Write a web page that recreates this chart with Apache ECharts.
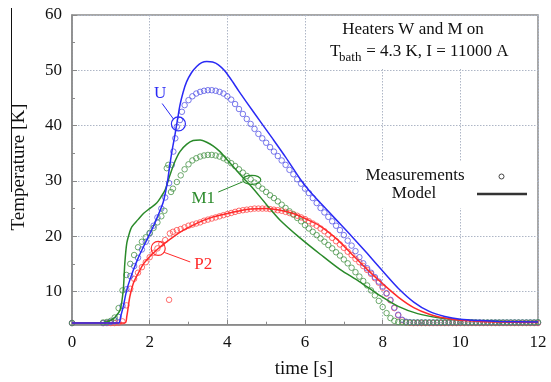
<!DOCTYPE html>
<html>
<head>
<meta charset="utf-8">
<script src="https://cdn.jsdelivr.net/npm/echarts@6/dist/echarts.min.js"></script>
<style>html,body{margin:0;padding:0;background:#fff}#c{width:551px;height:382px}</style>
</head>
<body>
<div id="c"></div>
<script>
// ---- axis ticks ----
const xTickInterval = 2;
const xMin = 0, xMax = 12;
const yMin = 4, yMax = 60;
const yTickValues = [10, 20, 30, 40, 50, 60];
const yMinorTicks = [15, 25, 35, 45, 55];

// ---- model curves [time s, temperature K] ----
const modelU = [[0,4.3],[1.2,4.3],[1.25,5.4],[1.32,7.3],[1.41,10.3],[1.5,12.3],[1.58,13.9],[1.7,16.0],[1.84,18.1],[2.0,20.4],[2.09,21.7],[2.2,23.5],[2.35,26.2],[2.45,29.5],[2.52,32.9],[2.58,35.6],[2.65,38.3],[2.72,41.2],[2.78,43.7],[2.86,46.0],[2.95,47.9],[3.08,49.6],[3.21,50.7],[3.34,51.4],[3.47,51.6],[3.62,51.5],[3.77,51.0],[3.92,50.0],[4.07,48.6],[4.3,46.2],[4.67,42.5],[5.18,37.5],[5.5,34.3],[5.87,30.4],[6.1,28.3],[6.4,26.0],[6.8,23.0],[7.2,20.0],[7.6,16.9],[8.0,13.7],[8.4,10.6],[8.8,8.1],[9.2,6.4],[9.6,5.5],[10,5.0],[10.5,4.75],[11,4.6],[12,4.5]];
const modelM1 = [[0,4.3],[0.8,4.35],[1.0,4.8],[1.1,5.3],[1.24,6.7],[1.32,10.3],[1.36,15.1],[1.41,18.7],[1.48,20.6],[1.54,21.7],[1.7,23.0],[1.84,24.1],[2.0,25.0],[2.18,26.0],[2.3,27.2],[2.4,28.4],[2.52,31.0],[2.65,33.5],[2.78,35.3],[2.95,36.6],[3.12,37.3],[3.3,37.4],[3.47,37.0],[3.64,36.3],[3.81,35.3],[4.0,33.8],[4.15,32.6],[4.4,30.6],[4.63,28.9],[5.0,25.8],[5.36,22.9],[5.87,19.7],[6.4,16.7],[6.9,14.0],[7.4,11.8],[7.9,9.4],[8.4,7.3],[8.9,6.0],[9.4,5.3],[10,4.9],[11,4.6],[12,4.5]];
const modelP2 = [[0,4.3],[1.36,4.3],[1.41,5.45],[1.49,9.1],[1.58,11.5],[1.7,13.2],[1.84,15.0],[2.0,16.3],[2.18,17.5],[2.4,18.8],[2.61,19.9],[2.85,21.0],[3.12,22.0],[3.4,22.9],[3.64,23.5],[4.0,24.1],[4.33,24.6],[4.6,24.9],[5.0,25.0],[5.36,24.7],[5.7,24.1],[6.0,23.2],[6.4,21.8],[6.8,19.6],[7.2,16.8],[7.6,14.0],[8.0,11.4],[8.4,9.0],[8.8,7.1],[9.2,5.9],[9.6,5.2],[10,4.8],[10.5,4.6],[11,4.5],[12,4.4]];

// ---- measurements [time s, temperature K] ----
const measU = [[0,4.3],[0.8,4.3],[0.9,4.35],[1.0,4.5],[1.1,4.8],[1.2,5.4],[1.3,7.4],[1.4,10.4],[1.5,12.8],[1.6,14.6],[1.7,16.1],[1.8,17.6],[1.9,19.0],[2.0,20.5],[2.1,21.9],[2.2,23.4],[2.3,25.0],[2.4,27.0],[2.5,29.6],[2.57,32.9],[2.61,35.3],[2.66,37.7],[2.7,39.8],[2.78,41.0],[2.83,42.5],[2.9,43.7],[3.0,44.6],[3.1,45.3],[3.2,45.8],[3.3,46.1],[3.4,46.3],[3.5,46.4],[3.6,46.4],[3.7,46.3],[3.8,46.1],[3.9,45.8],[4.0,45.3],[4.1,44.7],[4.2,43.9],[4.3,43.0],[4.4,42.1],[4.5,41.2],[4.6,40.3],[4.7,39.4],[4.8,38.5],[4.9,37.7],[5.0,36.9],[5.1,36.1],[5.2,35.3],[5.3,34.5],[5.4,33.7],[5.5,32.9],[5.6,32.0],[5.7,31.2],[5.8,30.3],[5.9,29.5],[6.0,28.6],[6.1,27.8],[6.2,26.9],[6.3,26.0],[6.4,25.1],[6.5,24.3],[6.6,23.5],[6.7,22.7],[6.8,21.9],[6.9,21.1],[7.0,20.2],[7.1,19.2],[7.2,18.3],[7.3,17.3],[7.4,16.2],[7.5,15.1],[7.6,14.2],[7.7,13.4],[7.8,12.6],[7.9,11.8],[8.0,10.9],[8.1,9.7],[8.2,8.5],[8.3,7.1],[8.4,5.8],[8.5,4.9],[8.6,4.55],[8.7,4.45],[8.8,4.4],[8.9,4.4],[9.0,4.4],[9.1,4.4],[9.2,4.4],[9.3,4.4],[9.4,4.4],[9.5,4.4],[9.6,4.4],[9.7,4.4],[9.8,4.4],[9.9,4.4],[10.0,4.4],[10.1,4.4],[10.2,4.4],[10.3,4.4],[10.4,4.4],[10.5,4.4],[10.6,4.4],[10.7,4.4],[10.8,4.4],[10.9,4.4],[11.0,4.4],[11.1,4.4],[11.2,4.4],[11.3,4.4],[11.4,4.4],[11.5,4.4],[11.6,4.4],[11.7,4.4],[11.8,4.4],[11.9,4.4],[12.0,4.4]];
const measM1 = [[0,4.3],[0.8,4.4],[0.9,4.5],[1.0,4.7],[1.1,5.3],[1.2,7.0],[1.3,10.2],[1.4,13.0],[1.5,15.0],[1.6,16.6],[1.7,18.0],[1.8,19.0],[1.9,19.8],[2.0,20.6],[2.1,21.5],[2.2,22.5],[2.3,23.6],[2.38,24.6],[2.44,32.3],[2.48,32.9],[2.55,28.0],[2.6,28.6],[2.7,29.8],[2.8,31.0],[2.9,32.1],[3.0,33.0],[3.1,33.7],[3.2,34.1],[3.3,34.4],[3.4,34.6],[3.5,34.7],[3.6,34.7],[3.7,34.6],[3.8,34.4],[3.9,34.1],[4.0,33.7],[4.1,33.2],[4.2,32.7],[4.3,32.1],[4.4,31.5],[4.5,30.9],[4.6,30.3],[4.7,29.7],[4.8,29.1],[4.9,28.6],[5.0,28.0],[5.1,27.4],[5.2,26.9],[5.3,26.3],[5.4,25.7],[5.5,25.1],[5.6,24.5],[5.7,23.9],[5.8,23.3],[5.9,22.7],[6.0,22.0],[6.1,21.4],[6.2,20.8],[6.3,20.2],[6.4,19.6],[6.5,19.0],[6.6,18.4],[6.7,17.8],[6.8,17.1],[6.9,16.5],[7.0,15.8],[7.1,15.1],[7.2,14.3],[7.3,13.5],[7.4,12.7],[7.5,11.9],[7.6,11.1],[7.7,10.2],[7.8,9.3],[7.9,8.3],[8.0,7.2],[8.1,6.1],[8.2,5.2],[8.3,4.7],[8.4,4.5],[8.5,4.45],[8.6,4.4],[8.7,4.4],[8.8,4.4],[8.9,4.4],[9.0,4.4],[9.1,4.4],[9.2,4.4],[9.3,4.4],[9.4,4.4],[9.5,4.4],[9.6,4.4],[9.7,4.4],[9.8,4.4],[9.9,4.4],[10.0,4.4],[10.1,4.4],[10.2,4.4],[10.3,4.4],[10.4,4.4],[10.5,4.4],[10.6,4.4],[10.7,4.4],[10.8,4.4],[10.9,4.4],[11.0,4.4],[11.1,4.4],[11.2,4.4],[11.3,4.4],[11.4,4.4],[11.5,4.4],[11.6,4.4],[11.7,4.4],[11.8,4.4],[11.9,4.4],[12.0,4.45]];
const measP2 = [[0,4.3],[0.8,4.3],[0.9,4.3],[1.0,4.3],[1.1,4.3],[1.2,4.35],[1.3,4.6],[1.4,7.5],[1.5,10.5],[1.6,12.3],[1.7,13.4],[1.8,14.4],[1.9,15.3],[2.0,16.2],[2.1,17.0],[2.2,17.8],[2.3,18.6],[2.4,19.3],[2.5,8.5],[2.52,20.5],[2.6,20.8],[2.7,21.1],[2.8,21.3],[2.9,21.6],[3.0,21.9],[3.1,22.1],[3.2,22.3],[3.3,22.5],[3.4,22.8],[3.5,23.0],[3.6,23.2],[3.7,23.4],[3.8,23.6],[3.9,23.8],[4.0,24.0],[4.1,24.2],[4.2,24.4],[4.3,24.6],[4.4,24.7],[4.5,24.8],[4.6,24.9],[4.7,25.0],[4.8,25.0],[4.9,25.0],[5.0,25.0],[5.1,24.9],[5.2,24.8],[5.3,24.7],[5.4,24.6],[5.5,24.4],[5.6,24.2],[5.7,24.0],[5.8,23.7],[5.9,23.4],[6.0,23.1],[6.1,22.7],[6.2,22.3],[6.3,21.9],[6.4,21.4],[6.5,20.9],[6.6,20.3],[6.7,19.7],[6.8,19.1],[6.9,18.5],[7.0,17.9],[7.1,17.2],[7.2,16.6],[7.3,15.9],[7.4,15.3],[7.5,14.6],[7.6,13.9],[7.7,13.2],[7.8,12.4],[7.9,11.6],[8.0,10.7],[8.1,9.6],[8.2,8.4],[8.3,7.0],[8.4,5.7],[8.5,4.8],[8.6,4.45],[8.7,4.35],[8.8,4.3],[8.9,4.3],[9.0,4.3],[9.1,4.3],[9.2,4.3],[9.3,4.3],[9.4,4.3],[9.5,4.3],[9.6,4.3],[9.7,4.3],[9.8,4.3],[9.9,4.3],[10.0,4.3],[10.1,4.3],[10.2,4.3],[10.3,4.3],[10.4,4.3],[10.5,4.3],[10.6,4.3],[10.7,4.3],[10.8,4.3],[10.9,4.3],[11.0,4.3],[11.1,4.3],[11.2,4.3],[11.3,4.3],[11.4,4.3],[11.5,4.3],[11.6,4.3],[11.7,4.3],[11.8,4.3],[11.9,4.3],[12.0,4.3]];

// ---- annotation anchors (data coordinates) ----
const labelU = {text: 'U', at: [2.27, 45.8], marker: [2.74, 40.3]};
const labelM1 = {text: 'M1', at: [3.38, 26.9], marker: [4.63, 30.2]};
const labelP2 = {text: 'P2', at: [3.38, 14.8], marker: [2.22, 17.8]};

const C = {
  blue: '#2a2af5', blueM: '#5858e6',
  green: '#2a8a2a', greenM: '#4a954a',
  red: '#ff2a2a', redM: '#ff4a4a'
};
const FONT = '"Liberation Serif", "DejaVu Serif", serif';
const axisGray = '#8a8a8a';
const gridStyle = {color: '#aeb6c6', width: 1, type: [1.5, 1.5]};

const chart = echarts.init(document.getElementById('c'), null, {renderer: 'canvas'});

function measSeries(name, data, color) {
  return {
    name, type: 'scatter', data, symbol: 'circle', symbolSize: 5.5,
    itemStyle: {color: 'rgba(0,0,0,0)', borderColor: color, borderWidth: 1},
    z: 3, silent: true, animation: false
  };
}
function modelSeries(name, data, color) {
  return {
    name, type: 'line', data, showSymbol: false, smooth: 0.3,
    lineStyle: {color, width: 1.5}, z: 4, silent: true, animation: false
  };
}

chart.setOption({
  animation: false,
  backgroundColor: '#fff',
  grid: {left: 72, top: 15, right: 13, bottom: 57.3, show: true, borderColor: axisGray, borderWidth: 1.5, backgroundColor: 'transparent'},
  xAxis: {
    type: 'value', min: xMin, max: xMax, interval: xTickInterval,
    axisLine: {show: true, lineStyle: {color: axisGray, width: 1.5}},
    axisTick: {show: true, inside: true, length: 5, lineStyle: {color: axisGray, width: 1}},
    minorTick: {show: true, splitNumber: 2, length: 3, lineStyle: {color: axisGray, width: 1}},
    axisLabel: {color: '#111', fontFamily: FONT, fontSize: 17, margin: 9},
    splitLine: {show: true, lineStyle: gridStyle}
  },
  yAxis: [{
    type: 'value', min: yMin, max: yMax,
    axisLine: {show: true, lineStyle: {color: axisGray, width: 1.5}},
    axisTick: {show: true, inside: true, length: 5, customValues: yTickValues, lineStyle: {color: axisGray, width: 1}},
    axisLabel: {color: '#111', fontFamily: FONT, fontSize: 17, margin: 10, customValues: yTickValues},
    splitLine: {show: true, lineStyle: gridStyle}
  }, {
    type: 'value', min: yMin, max: yMax, position: 'left',
    axisLine: {show: false},
    axisTick: {show: true, inside: true, length: 3, customValues: yMinorTicks, lineStyle: {color: axisGray, width: 1}},
    axisLabel: {show: false},
    splitLine: {show: false}
  }],
  series: [
    measSeries('P2 meas', measP2, C.redM),
    measSeries('U meas', measU, C.blueM),
    measSeries('M1 meas', measM1, C.greenM),
    modelSeries('M1 model', modelM1, C.green),
    modelSeries('P2 model', modelP2, C.red),
    modelSeries('U model', modelU, C.blue)
  ]
});

function px(p) { return chart.convertToPixel({gridIndex: 0}, p); }

function annot(lab, color, lineFrom, lineTo, mk) {
  const t = px(lab.at), m = px(lab.marker);
  const els = [{
    type: 'text', z: 10, style: {text: lab.text, x: t[0], y: t[1], fill: color, font: '17px ' + FONT, textAlign: 'center', textVerticalAlign: 'middle'}
  }, {
    type: 'line', z: 10, shape: {x1: t[0] + lineFrom[0], y1: t[1] + lineFrom[1], x2: m[0] + lineTo[0], y2: m[1] + lineTo[1]}, style: {stroke: color, lineWidth: 1}
  }];
  if (mk.type === 'circle') {
    els.push({type: 'circle', z: 10, shape: {cx: m[0], cy: m[1], r: mk.r}, style: {fill: 'none', stroke: color, lineWidth: 1.2}});
  } else {
    els.push({type: 'ellipse', z: 10, shape: {cx: m[0], cy: m[1], rx: mk.rx, ry: mk.ry}, style: {fill: 'none', stroke: color, lineWidth: 1.2}});
  }
  return els;
}

const graphics = [
  // white boxes behind the in-plot texts
  {type: 'rect', z: 1, shape: {x: 318, y: 16, width: 219, height: 52}, style: {fill: '#fff'}},
  {type: 'rect', z: 1, shape: {x: 358, y: 161, width: 179, height: 47}, style: {fill: '#fff'}},
  {type: 'text', z: 10, style: {text: 'Heaters W and M on', x: 413, y: 30, fill: '#111', font: '17px ' + FONT, textAlign: 'center', textVerticalAlign: 'middle'}},
  {type: 'text', z: 10, style: {text: 'T', x: 330, y: 52, fill: '#111', font: '17px ' + FONT, textAlign: 'left', textVerticalAlign: 'middle'}},
  {type: 'text', z: 10, style: {text: 'bath', x: 339, y: 58, fill: '#111', font: '13px ' + FONT, textAlign: 'left', textVerticalAlign: 'middle'}},
  {type: 'text', z: 10, style: {text: ' = 4.3 K, I = 11000 A', x: 362, y: 52, fill: '#111', font: '17px ' + FONT, textAlign: 'left', textVerticalAlign: 'middle'}},
  {type: 'text', z: 10, style: {text: 'Measurements', x: 415, y: 176, fill: '#111', font: '17px ' + FONT, textAlign: 'center', textVerticalAlign: 'middle'}},
  {type: 'text', z: 10, style: {text: 'Model', x: 414, y: 194, fill: '#111', font: '17px ' + FONT, textAlign: 'center', textVerticalAlign: 'middle'}},
  {type: 'circle', z: 10, shape: {cx: 501.5, cy: 176.5, r: 2.5}, style: {fill: 'none', stroke: '#444', lineWidth: 1}},
  {type: 'line', z: 10, shape: {x1: 477, y1: 194, x2: 527, y2: 194}, style: {stroke: '#333', lineWidth: 2.5}},
  // axis titles
  {type: 'text', z: 10, style: {text: 'time [s]', x: 304, y: 369, fill: '#111', font: '19px ' + FONT, textAlign: 'center', textVerticalAlign: 'middle'}},
  {type: 'text', z: 10, x: 19, y: 167, rotation: Math.PI / 2, style: {text: 'Temperature [K]', x: 0, y: 0, fill: '#111', font: '19px ' + FONT, textAlign: 'center', textVerticalAlign: 'middle'}},
  {type: 'line', z: 10, shape: {x1: 11.5, y1: 8, x2: 11.5, y2: 192}, style: {stroke: '#111', lineWidth: 1}}
].concat(
  annot(labelU, C.blue, [2, 10], [-5, -5], {type: 'circle', r: 7}),
  annot(labelM1, C.green, [15, -6], [-9, 2], {type: 'ellipse', rx: 9, ry: 4.5}),
  annot(labelP2, C.red, [-13, -3], [6, 4], {type: 'circle', r: 7})
);

chart.setOption({graphic: {elements: graphics}});
</script>
</body>
</html>
